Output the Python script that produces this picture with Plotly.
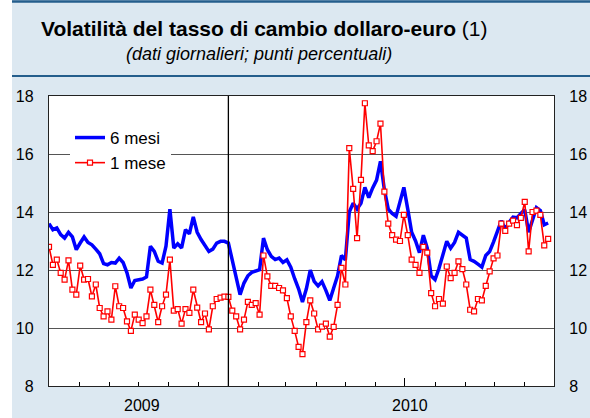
import plotly.graph_objects as go
import pandas as pd

# ---- data ----
START_DATE = "2009-07-01"
STEP = "4D"

six_months = [
    13.6, 13.39, 13.45, 13.22, 13.1, 13.3, 13.14, 12.7, 12.93, 13.14,
    12.95, 12.87, 12.72, 12.56, 12.22, 12.18, 12.26, 12.24, 12.41, 12.26,
    11.9, 11.38, 11.64, 11.67, 11.69, 11.76, 12.82, 12.64, 12.3, 12.24,
    12.82, 14.1, 12.76, 12.9, 12.76, 13.39, 13.25, 13.83, 13.3, 13.05,
    12.85, 12.64, 12.72, 12.93, 12.99, 12.99, 12.93, 12.3, 11.7, 11.15,
    11.55, 11.8, 11.92, 11.95, 12.01, 13.1, 12.7, 12.47, 12.36, 12.41,
    12.26, 12.35, 12.1, 11.7, 11.35, 10.9, 11.35, 12.0, 11.61, 11.45,
    11.6, 11.3, 10.95, 11.38, 11.8, 12.5, 12.35, 14.0, 14.3, 14.1,
    14.3, 14.85, 14.5, 14.83, 15.1, 15.75, 14.77, 14.1, 13.95, 13.85,
    14.31, 14.85, 14.1, 13.3, 13.0, 12.6, 13.2, 12.75, 11.8, 11.67,
    12.05, 12.5, 12.99, 12.75, 12.95, 13.3, 13.2, 13.1, 12.36, 12.3,
    12.2, 12.1, 12.5, 12.64, 12.97, 13.3, 13.7, 13.4, 13.65, 13.82,
    13.8, 13.95, 14.08, 13.3, 13.75, 14.15, 14.05, 13.56, 13.62,
]

one_month = [
    12.8, 12.18, 12.36, 11.9, 11.67, 12.33, 11.32, 11.15, 12.15, 11.67,
    11.69, 11.09, 11.5, 10.69, 10.4, 10.57, 10.29, 11.44, 10.75, 10.69,
    10.23, 9.9, 10.46, 10.29, 10.17, 10.4, 11.32, 10.8, 10.2, 10.75,
    11.15, 12.36, 10.6, 10.65, 10.15, 10.65, 10.52, 11.32, 10.7, 10.2,
    10.5, 9.95, 10.75, 11.0, 11.05, 11.08, 11.07, 10.6, 10.4, 9.95,
    10.29, 10.9, 10.8, 10.86, 10.46, 12.5, 11.78, 11.45, 11.45, 11.38,
    11.3, 11.03, 10.4, 9.9, 9.35, 9.1, 10.2, 10.95, 10.5, 9.95,
    10.05, 10.15, 9.7, 10.04, 10.8, 12.07, 11.5, 16.2, 14.8, 13.1,
    15.11, 17.75, 16.3, 16.1, 16.44, 17.05, 14.7, 13.6, 13.2, 13.05,
    13.0, 13.9, 13.2, 12.36, 12.18, 11.9, 12.8, 12.6, 11.2, 10.75,
    11.0, 10.84, 12.12, 11.72, 11.9, 12.3, 12.03, 11.5, 10.63, 10.57,
    11.0, 10.95, 11.45, 11.95, 12.4, 12.5, 13.6, 13.35, 13.6, 13.7,
    13.55, 13.8, 14.35, 12.64, 14.0, 14.05, 13.9, 12.85, 13.07,
]

dates = pd.date_range(START_DATE, periods=len(six_months), freq=STEP)

series_names = ["6 mesi", "1 mese"]
year_labels = ["2009", "2010"]
year_label_dates = ["2009-10-04", "2010-07-06"]
year_boundary = "2010-01-01"
mid_year_tick = "2010-07-01"
x_range = ["2009-07-01", "2010-12-01"]
y_ticks = [8, 10, 12, 14, 16, 18]

title_text = "<b>Volatilità del tasso di cambio dollaro-euro</b> (1)"
subtitle_text = "<i>(dati giornalieri; punti percentuali)</i>"

# ---- style ----
FONT = "Liberation Sans, Arial, Helvetica, sans-serif"
BAND = "#dce8f1"
RULE = "#245e8c"

W, H = 590, 418
L, R, T, B = 49, 36, 96, 32
pw, ph = W - L - R, H - T - B


def px_x(px):
    return (px - L) / pw


def px_y(py):
    return (H - B - py) / ph


fig = go.Figure()

fig.add_trace(go.Scatter(
    x=dates, y=six_months, name=series_names[0], mode="lines",
    line=dict(color="#0000ff", width=3.5), yaxis="y",
))
fig.add_trace(go.Scatter(
    x=dates, y=one_month, name=series_names[1], mode="lines+markers",
    line=dict(color="#ff0000", width=1.6),
    marker=dict(symbol="square", size=5, color="white",
                line=dict(color="#ff0000", width=1.2)),
    yaxis="y2",
))

shapes = [
    # white left margin strip
    dict(type="rect", xref="paper", yref="paper", x0=px_x(0), x1=px_x(12),
         y0=px_y(H), y1=px_y(0), fillcolor="white", line=dict(width=0),
         layer="below"),
    # title band rules
    dict(type="line", xref="paper", yref="paper", x0=px_x(12), x1=px_x(W),
         y0=px_y(1.5), y1=px_y(1.5), line=dict(color=RULE, width=2.5)),
    dict(type="line", xref="paper", yref="paper", x0=px_x(12), x1=px_x(W),
         y0=px_y(76), y1=px_y(76), line=dict(color=RULE, width=2)),
    # year boundary
    dict(type="line", xref="x", yref="paper", x0=year_boundary, x1=year_boundary,
         y0=0, y1=1, line=dict(color="black", width=1.3)),
]

annotations = [
    dict(text=title_text, xref="paper", yref="paper", x=px_x(264), y=px_y(28),
         xanchor="center", yanchor="middle", showarrow=False,
         font=dict(family=FONT, size=21, color="black")),
    dict(text=subtitle_text, xref="paper", yref="paper", x=px_x(259), y=px_y(54),
         xanchor="center", yanchor="middle", showarrow=False,
         font=dict(family=FONT, size=18, color="black")),
]
for lab, d in zip(year_labels, year_label_dates):
    annotations.append(dict(text=lab, xref="x", yref="paper", x=d, y=px_y(405),
                            xanchor="center", yanchor="middle", showarrow=False,
                            font=dict(family=FONT, size=16, color="black")))

fig.update_layout(
    width=W, height=H,
    margin=dict(l=L, r=R, t=T, b=B, pad=0),
    paper_bgcolor=BAND, plot_bgcolor="white",
    font=dict(family=FONT, size=16, color="black"),
    showlegend=True,
    legend=dict(x=px_x(70), y=px_y(120), xanchor="left", yanchor="top",
                bgcolor="white", font=dict(size=17), borderwidth=0,
                itemwidth=30, tracegroupgap=2),
    shapes=shapes,
    annotations=annotations,
    xaxis=dict(
        type="date", range=x_range, showgrid=False, zeroline=False,
        showline=True, linecolor="#222", linewidth=1.3, mirror=True,
        ticks="inside", tickvals=[mid_year_tick], ticklen=8, tickcolor="black",
        showticklabels=False,
        minor=dict(ticks="inside", ticklen=4, dtick="M1", tick0=x_range[0],
                   tickcolor="black", showgrid=False),
    ),
    yaxis=dict(
        range=[8, 18], tickvals=y_ticks, showgrid=True, gridcolor="#555",
        gridwidth=1, zeroline=False, showline=True, linecolor="#222",
        linewidth=1.3, ticks="", ticklabelstandoff=11, automargin=False,
    ),
    yaxis2=dict(
        range=[8, 18], tickvals=y_ticks, overlaying="y", side="right",
        showgrid=False, zeroline=False, showline=True, linecolor="#222",
        linewidth=1.3, ticks="", ticklabelstandoff=11, automargin=False,
    ),
)

fig.write_html("out.html", config={"displayModeBar": False},
               post_script="document.body.style.margin='0';")
